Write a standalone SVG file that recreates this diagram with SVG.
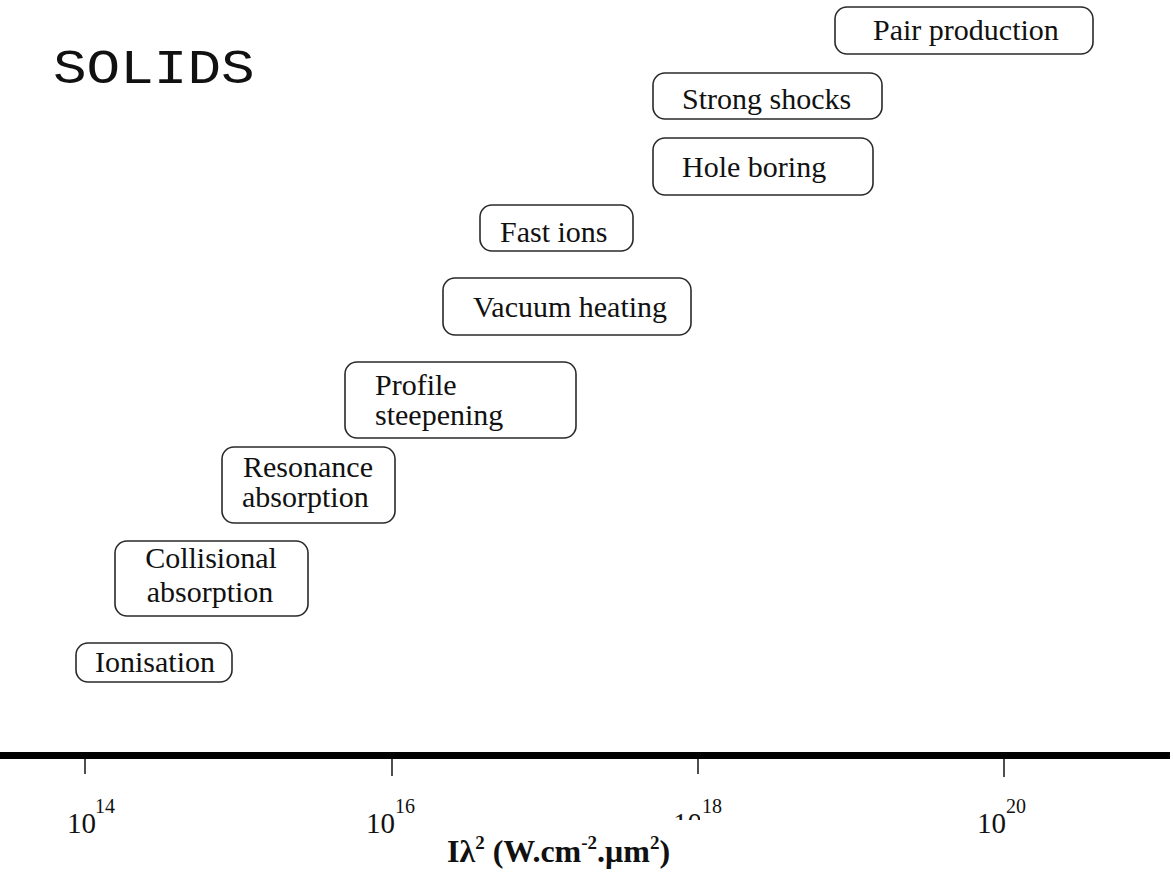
<svg xmlns="http://www.w3.org/2000/svg" width="1173" height="873" viewBox="0 0 1173 873">
<style>
.box{fill:none;stroke:#2a2a2a;stroke-width:1.6}
.lbl{font-family:"Liberation Serif","Times New Roman",serif;font-size:30px;fill:#111}
.tick{stroke:#222;stroke-width:1.6}
.num{font-family:"Liberation Serif","Times New Roman",serif;font-size:29px;fill:#111}
.sup{font-family:"Liberation Serif","Times New Roman",serif;font-size:20px;fill:#111}
</style>
<defs>
<clipPath id="clip18"><rect x="660" y="790" width="40" height="30"/></clipPath>
</defs>
<rect width="1173" height="873" fill="#fff"/>
<g id="title">
<text transform="translate(53,83) scale(1,0.86)" font-family="'Liberation Mono','Courier New',monospace" font-size="56" fill="#111">SOLIDS</text>
</g>
<g id="pair-production"><rect class="box" x="835" y="7" width="258" height="47" rx="12"/><text class="lbl" x="873" y="40">Pair production</text></g>
<g id="strong-shocks"><rect class="box" x="653" y="73" width="229" height="46" rx="12"/><text class="lbl" x="682" y="109">Strong shocks</text></g>
<g id="hole-boring"><rect class="box" x="653" y="138" width="220" height="57" rx="12"/><text class="lbl" x="682" y="177">Hole boring</text></g>
<g id="fast-ions"><rect class="box" x="480" y="205" width="153" height="46" rx="12"/><text class="lbl" x="500" y="242">Fast ions</text></g>
<g id="vacuum-heating"><rect class="box" x="443" y="278" width="248" height="57" rx="12"/><text class="lbl" x="473" y="317">Vacuum heating</text></g>
<g id="profile-steepening"><rect class="box" x="345" y="362" width="231" height="76" rx="12"/><text class="lbl" x="375" y="395">Profile</text><text class="lbl" x="375" y="425">steepening</text></g>
<g id="resonance-absorption"><rect class="box" x="222" y="447" width="173" height="76" rx="12"/><text class="lbl" x="243" y="477">Resonance</text><text class="lbl" x="242" y="507">absorption</text></g>
<g id="collisional-absorption"><rect class="box" x="115" y="541" width="193" height="75" rx="12"/><text class="lbl" x="211" y="568" text-anchor="middle">Collisional</text><text class="lbl" x="210" y="602" text-anchor="middle">absorption</text></g>
<g id="ionisation"><rect class="box" x="76" y="643" width="156" height="39" rx="12"/><text class="lbl" x="95" y="672">Ionisation</text></g>
<g id="axis">
<rect x="0" y="752" width="1170" height="7" fill="#000"/>
<line class="tick" x1="85" y1="759" x2="85" y2="774"/>
<line class="tick" x1="392" y1="759" x2="392" y2="776"/>
<line class="tick" x1="698" y1="759" x2="698" y2="774"/>
<line class="tick" x1="1004" y1="759" x2="1004" y2="777"/>
<text class="num" x="67" y="833">10</text><text class="sup" x="95" y="813">14</text>
<text class="num" x="366" y="833">10</text><text class="sup" x="395" y="813">16</text>
<text class="num" x="673" y="833" clip-path="url(#clip18)">10</text><text class="sup" x="702" y="813">18</text>
<text class="num" x="977" y="833">10</text><text class="sup" x="1006" y="813">20</text>
<text x="447" y="862" font-family="'Liberation Serif','Times New Roman',serif" font-weight="bold" font-size="32" fill="#111">Iλ<tspan font-size="19" dy="-13">2</tspan><tspan dy="13"> (W.cm</tspan><tspan font-size="19" dy="-13">-2</tspan><tspan dy="13">.μm</tspan><tspan font-size="19" dy="-13">2</tspan><tspan dy="13">)</tspan></text>
</g>
</svg>
